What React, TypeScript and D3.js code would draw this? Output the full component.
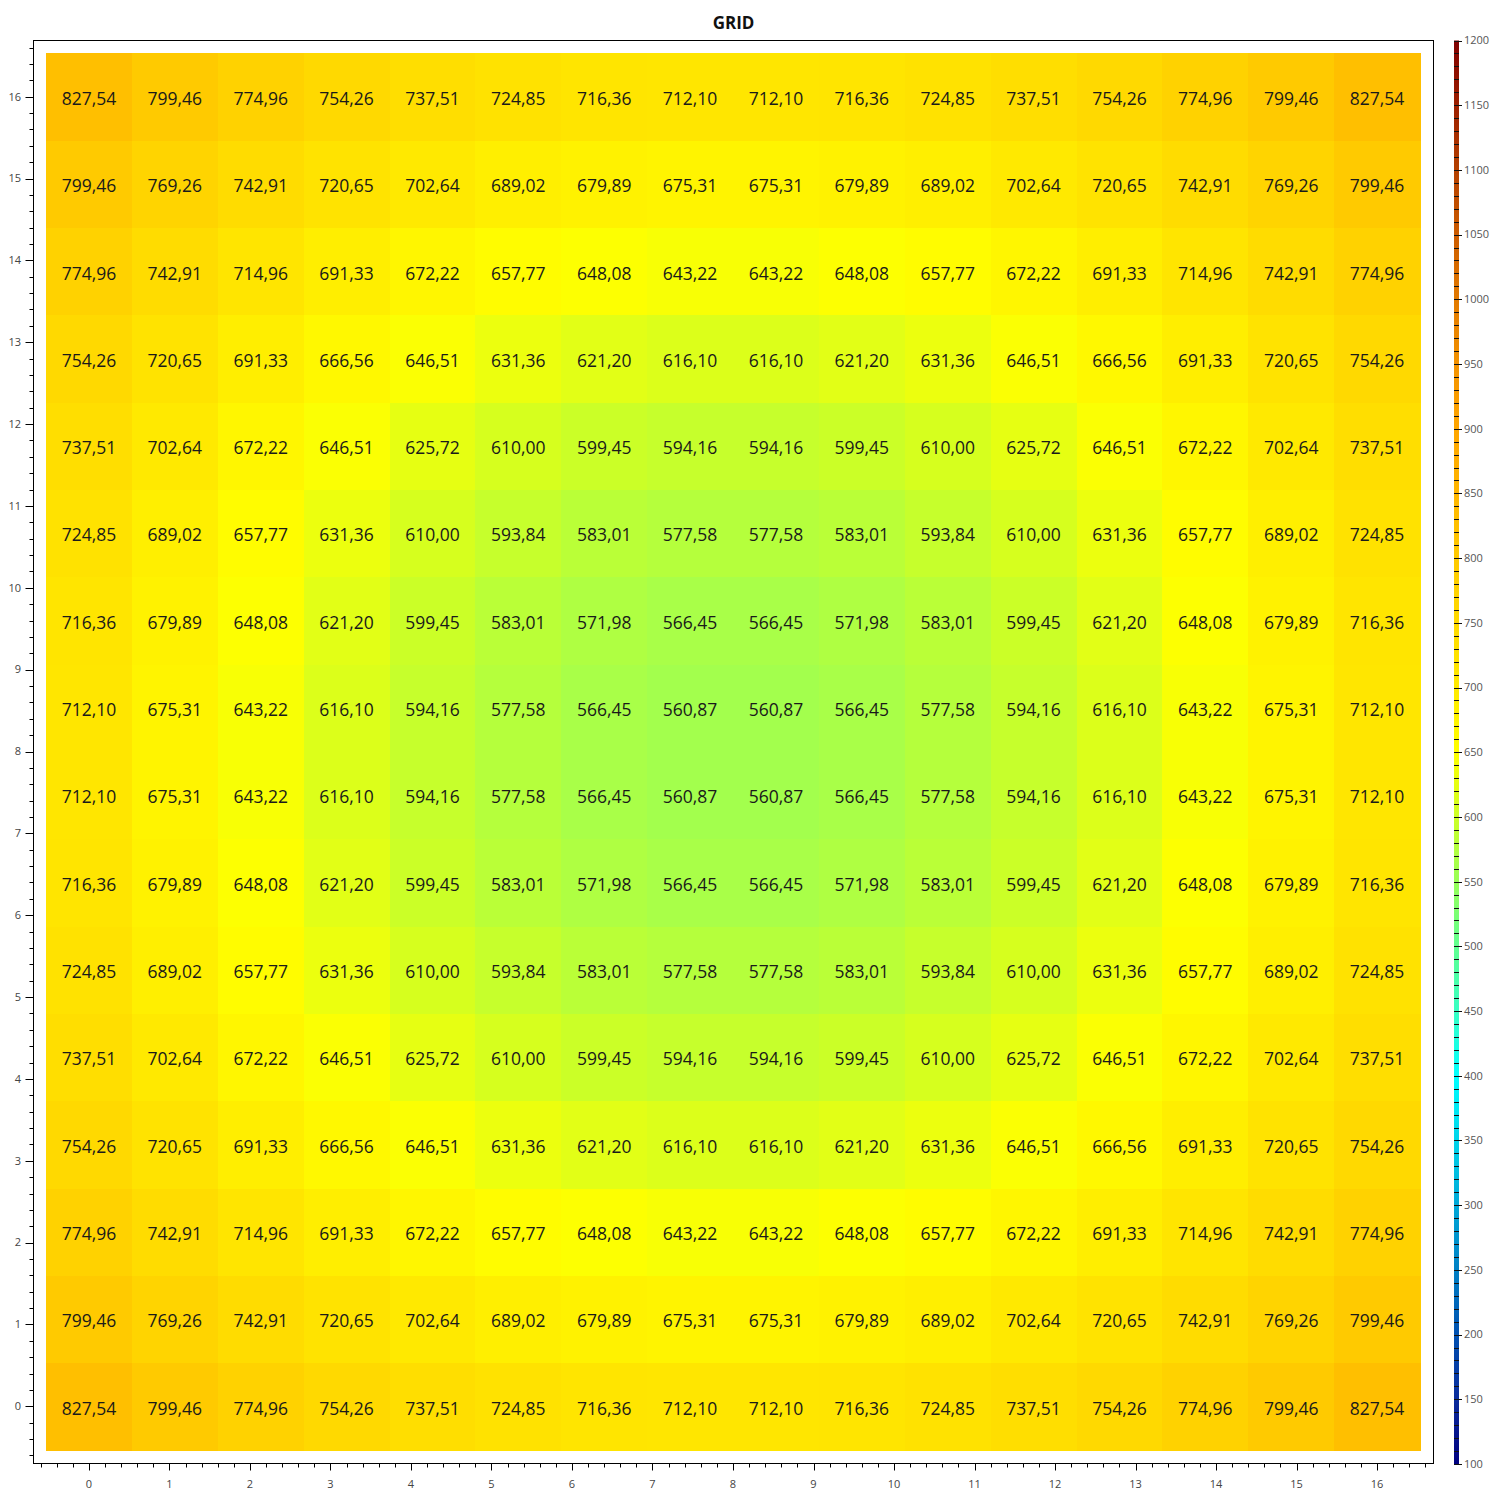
import React from "react";
import * as d3 from "d3";

// grid values, row 0 = bottom row, column 0 = left
const gridRows: number[][] = [
  [827.54, 799.46, 774.96, 754.26, 737.51, 724.85, 716.36, 712.10, 712.10, 716.36, 724.85, 737.51, 754.26, 774.96, 799.46, 827.54],
  [799.46, 769.26, 742.91, 720.65, 702.64, 689.02, 679.89, 675.31, 675.31, 679.89, 689.02, 702.64, 720.65, 742.91, 769.26, 799.46],
  [774.96, 742.91, 714.96, 691.33, 672.22, 657.77, 648.08, 643.22, 643.22, 648.08, 657.77, 672.22, 691.33, 714.96, 742.91, 774.96],
  [754.26, 720.65, 691.33, 666.56, 646.51, 631.36, 621.20, 616.10, 616.10, 621.20, 631.36, 646.51, 666.56, 691.33, 720.65, 754.26],
  [737.51, 702.64, 672.22, 646.51, 625.72, 610.00, 599.45, 594.16, 594.16, 599.45, 610.00, 625.72, 646.51, 672.22, 702.64, 737.51],
  [724.85, 689.02, 657.77, 631.36, 610.00, 593.84, 583.01, 577.58, 577.58, 583.01, 593.84, 610.00, 631.36, 657.77, 689.02, 724.85],
  [716.36, 679.89, 648.08, 621.20, 599.45, 583.01, 571.98, 566.45, 566.45, 571.98, 583.01, 599.45, 621.20, 648.08, 679.89, 716.36],
  [712.10, 675.31, 643.22, 616.10, 594.16, 577.58, 566.45, 560.87, 560.87, 566.45, 577.58, 594.16, 616.10, 643.22, 675.31, 712.10],
  [712.10, 675.31, 643.22, 616.10, 594.16, 577.58, 566.45, 560.87, 560.87, 566.45, 577.58, 594.16, 616.10, 643.22, 675.31, 712.10],
  [716.36, 679.89, 648.08, 621.20, 599.45, 583.01, 571.98, 566.45, 566.45, 571.98, 583.01, 599.45, 621.20, 648.08, 679.89, 716.36],
  [724.85, 689.02, 657.77, 631.36, 610.00, 593.84, 583.01, 577.58, 577.58, 583.01, 593.84, 610.00, 631.36, 657.77, 689.02, 724.85],
  [737.51, 702.64, 672.22, 646.51, 625.72, 610.00, 599.45, 594.16, 594.16, 599.45, 610.00, 625.72, 646.51, 672.22, 702.64, 737.51],
  [754.26, 720.65, 691.33, 666.56, 646.51, 631.36, 621.20, 616.10, 616.10, 621.20, 631.36, 646.51, 666.56, 691.33, 720.65, 754.26],
  [774.96, 742.91, 714.96, 691.33, 672.22, 657.77, 648.08, 643.22, 643.22, 648.08, 657.77, 672.22, 691.33, 714.96, 742.91, 774.96],
  [799.46, 769.26, 742.91, 720.65, 702.64, 689.02, 679.89, 675.31, 675.31, 679.89, 689.02, 702.64, 720.65, 742.91, 769.26, 799.46],
  [827.54, 799.46, 774.96, 754.26, 737.51, 724.85, 716.36, 712.10, 712.10, 716.36, 724.85, 737.51, 754.26, 774.96, 799.46, 827.54],
];

const axisTicks = [0, 1, 2, 3, 4, 5, 6, 7, 8, 9, 10, 11, 12, 13, 14, 15, 16];

// colour bar
const colorDomain = [100, 150, 200, 250, 300, 350, 400, 450, 500, 550, 600, 650, 700, 750, 800, 850, 900, 950, 1000, 1050, 1100, 1150, 1200];
const colorRange = [
  "#000080", "#0a2c9c", "#0050b0", "#0080c4", "#00a8d8", "#00d4ea", "#00ffff", "#38ffc4", "#60ff90",
  "#98ff58", "#ccff26", "#ffff00", "#ffea00", "#ffda00", "#ffca00", "#ffb600", "#ffa600", "#f39200",
  "#e27a00", "#cc5c00", "#b44000", "#9c2000", "#800000",
];
const colorTicks = [100, 150, 200, 250, 300, 350, 400, 450, 500, 550, 600, 650, 700, 750, 800, 850, 900, 950, 1000, 1050, 1100, 1150, 1200];

const FONT = "'Open Sans', 'Noto Sans', sans-serif";

export default function App() {
  const frame = { left: 33.5, top: 40.5, right: 1433.5, bottom: 1463.5 };
  const heat = { left: 46, top: 53, right: 1420, bottom: 1450 };

  const cols = d3.range(gridRows[0].length);
  const rows = d3.range(gridRows.length);

  const xBand = d3.scaleBand<number>().domain(cols).range([heat.left, heat.right]);
  const yBand = d3.scaleBand<number>().domain(rows).range([heat.bottom, heat.top]);
  const bw = xBand.bandwidth();
  const bh = yBand.bandwidth();

  const x = d3.scaleLinear().domain([0, 16]).range([xBand(0)! + bw / 2, xBand(cols.length - 1)! + bw / 2]);
  const y = d3.scaleLinear().domain([0, 16]).range([yBand(0)! + bh / 2, yBand(rows.length - 1)! + bh / 2]);

  const color = d3.scaleLinear<string>().domain(colorDomain).range(colorRange).clamp(true);
  const fmt = (v: number) => d3.format(".2f")(v).replace(".", ",");

  const minorRange = (scale: d3.ScaleLinear<number, number>, a: number, b: number) => {
    const lo = Math.min(scale.invert(a), scale.invert(b));
    const hi = Math.max(scale.invert(a), scale.invert(b));
    return d3.range(Math.ceil(lo * 5 - 1e-6), Math.floor(hi * 5 + 1e-6) + 1)
      .map((k) => k / 5)
      .filter((v) => Math.abs(v - Math.round(v)) > 1e-6);
  };
  const xMinor = minorRange(x, frame.left, frame.right);
  const yMinor = minorRange(y, frame.top, frame.bottom);

  const cb = { left: 1454, width: 5, top: 40.5, bottom: 1464 };
  const cScale = d3.scaleLinear().domain([100, 1200]).range([cb.bottom, cb.top]);
  const cMinor = d3.range(100, 1201, 10).filter((v) => v % 50 !== 0);

  return (
    <svg width={1500} height={1500} style={{ display: "block", position: "absolute", left: 0, top: 0 }} fontFamily={FONT}>
      <defs>
        <linearGradient id="cbar" x1="0" y1="1" x2="0" y2="0">
          {colorDomain.map((v, i) => (
            <stop key={v} offset={(v - 100) / 1100} stopColor={colorRange[i]} />
          ))}
        </linearGradient>
      </defs>
      <rect width={1500} height={1500} fill="#fff" />
      <text x={(frame.left + frame.right) / 2} y={29} textAnchor="middle" fontSize={17} fontWeight="bold" fill="#111">GRID</text>

      {/* cells */}
      <g shapeRendering="crispEdges">
        {rows.map((r) =>
          cols.map((c) => (
            <rect key={`${r}-${c}`} x={xBand(c)!} y={yBand(r)!} width={bw + 0.5} height={bh + 0.5} fill={color(gridRows[r][c])} />
          ))
        )}
      </g>
      <g fontSize={17.5} fill="#1a1a1a" textAnchor="middle">
        {rows.map((r) =>
          cols.map((c) => (
            <text key={`t${r}-${c}`} x={xBand(c)! + bw / 2} y={yBand(r)! + bh / 2} dy="0.47em">{fmt(gridRows[r][c])}</text>
          ))
        )}
      </g>

      {/* frame */}
      <rect x={frame.left} y={frame.top} width={frame.right - frame.left} height={frame.bottom - frame.top} fill="none" stroke="#000" strokeWidth={1} />

      {/* axes */}
      <g stroke="#000" strokeWidth={1}>
        {axisTicks.map((t) => (
          <line key={`xm${t}`} x1={Math.round(x(t)) + 0.5} x2={Math.round(x(t)) + 0.5} y1={frame.bottom} y2={frame.bottom + 7} />
        ))}
        {xMinor.map((t) => (
          <line key={`xn${t}`} x1={Math.round(x(t)) + 0.5} x2={Math.round(x(t)) + 0.5} y1={frame.bottom} y2={frame.bottom + 4} />
        ))}
        {axisTicks.map((t) => (
          <line key={`ym${t}`} y1={Math.round(y(t)) + 0.5} y2={Math.round(y(t)) + 0.5} x1={frame.left} x2={frame.left - 8} />
        ))}
        {yMinor.map((t) => (
          <line key={`yn${t}`} y1={Math.round(y(t)) + 0.5} y2={Math.round(y(t)) + 0.5} x1={frame.left} x2={frame.left - 4} />
        ))}
      </g>
      <g fontSize={11} fill="#444">
        {axisTicks.map((t) => (
          <text key={`xl${t}`} x={x(t)} y={frame.bottom + 21} dy="0.35em" textAnchor="middle">{t}</text>
        ))}
        {axisTicks.map((t) => (
          <text key={`yl${t}`} x={21} y={y(t)} dy="0.35em" textAnchor="end">{t}</text>
        ))}
      </g>

      {/* colour bar */}
      <rect x={cb.left} y={cb.top} width={cb.width} height={cb.bottom - cb.top} fill="url(#cbar)" />
      <g stroke="#111" strokeWidth={1}>
        {colorTicks.map((t) => (
          <line key={`cm${t}`} x1={cb.left} x2={cb.left + 8} y1={Math.round(cScale(t)) + 0.5} y2={Math.round(cScale(t)) + 0.5} />
        ))}
        {cMinor.map((t) => (
          <line key={`cn${t}`} x1={cb.left} x2={cb.left + 5} y1={Math.round(cScale(t)) + 0.5} y2={Math.round(cScale(t)) + 0.5} />
        ))}
      </g>
      <g fontSize={11} fill="#555">
        {colorTicks.map((t) => (
          <text key={`cl${t}`} x={cb.left + 10} y={cScale(t)} dy="0.35em">{t}</text>
        ))}
      </g>
    </svg>
  );
}
